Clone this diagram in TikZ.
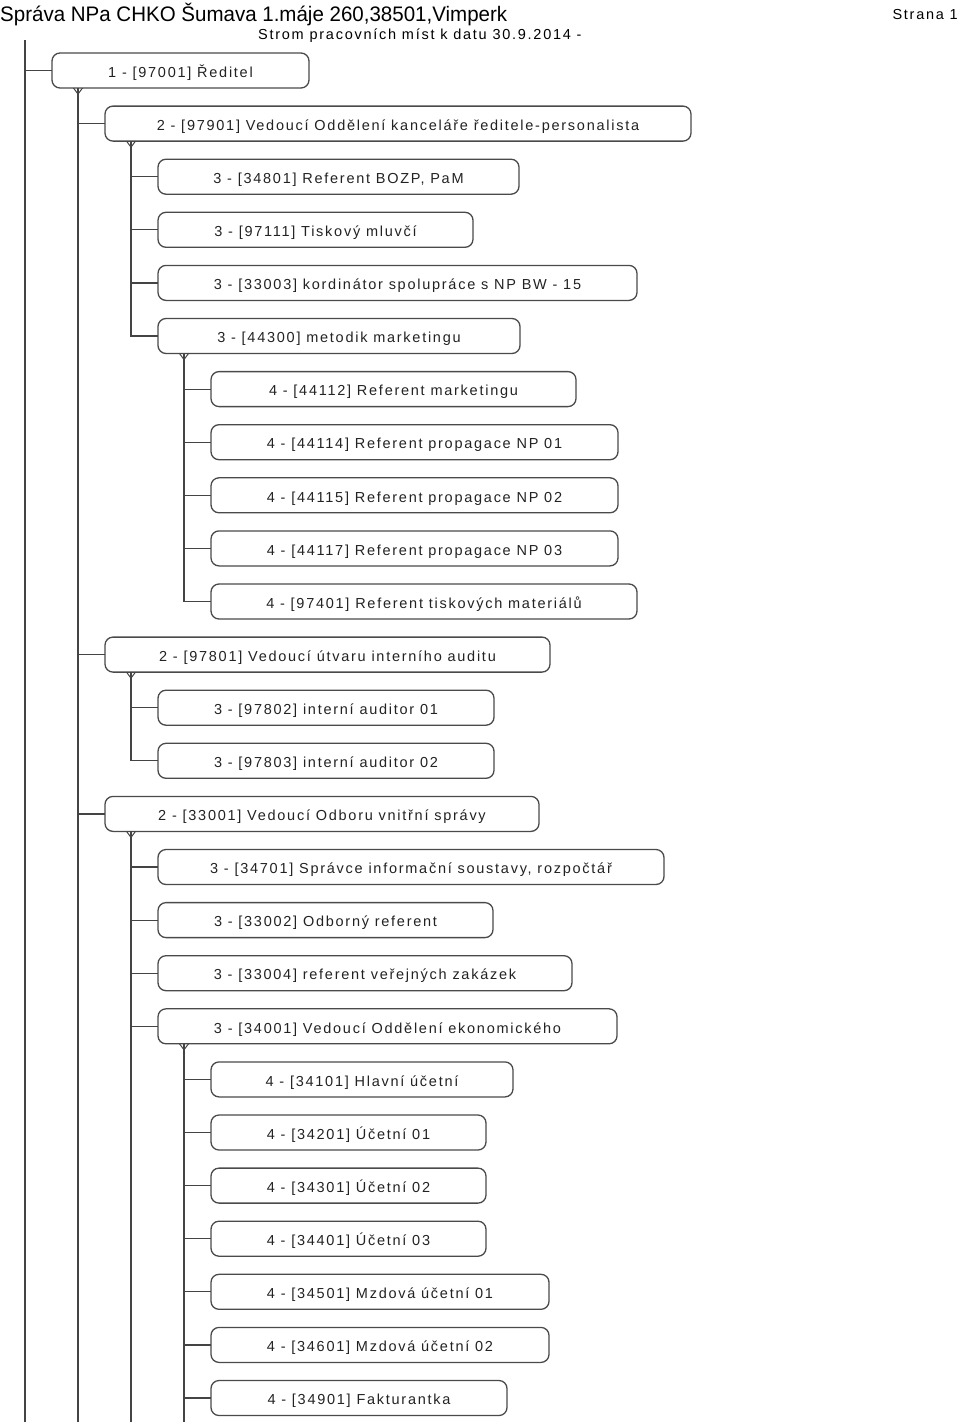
\documentclass[tikz,border=0pt]{standalone}
\usepackage{fontspec}
\usepackage{graphicx}
\setmainfont{Liberation Sans}
\newfontfamily\boxfont[LetterSpace=12]{Liberation Sans}
\newfontfamily\headfont{Liberation Sans}
\definecolor{boxc}{HTML}{4A4A4A}
\definecolor{linec}{HTML}{444444}
\definecolor{txt}{HTML}{222222}
\begin{document}
\begin{tikzpicture}[x=1pt,y=-1pt,
  box/.style={draw=boxc, line width=1.3pt, rounded corners=8pt, minimum height=35pt,
    inner sep=0pt, outer sep=0pt, anchor=west, text=txt, text height=13.4pt, text depth=0pt,
    font=\boxfont\fontsize{14.5}{17}\selectfont},
  conn/.style={draw=linec, line width=1.2pt},
  fork/.style={draw=linec, line width=1pt},
  hdr/.style={anchor=base west, inner sep=0pt, text=black}]
\useasboundingbox (0,0) rectangle (960,1427);
% header
\node[hdr] (h1) at (0,21.5) {\resizebox{507pt}{\height}{\headfont\fontsize{21}{24}\selectfont Správa NPa CHKO Šumava 1.máje 260,38501,Vimperk}};
\node[hdr, font=\boxfont\fontsize{14.5}{17}\selectfont] (h2) at (258,39.5) {Strom pracovních míst k datu 30.9.2014 -};
\node[hdr, anchor=base east, font=\boxfont\fontsize{14.5}{17}\selectfont] (h3) at (958,19.5) {Strana 1};
% boxes
\node[box, minimum width=257pt] (n1) at (52,70.5) {1 - [97001] Ředitel};
\node[box, minimum width=586pt] (n2) at (105,123.6) {2 - [97901] Vedoucí Oddělení kanceláře ředitele-personalista};
\node[box, minimum width=361pt] (n3) at (158,176.7) {3 - [34801] Referent BOZP, PaM};
\node[box, minimum width=315pt] (n4) at (158,229.8) {3 - [97111] Tiskový mluvčí};
\node[box, minimum width=479pt] (n5) at (158,282.9) {3 - [33003] kordinátor spolupráce s NP BW - 15};
\node[box, minimum width=362pt] (n6) at (158,336.0) {3 - [44300] metodik marketingu};
\node[box, minimum width=365pt] (n7) at (211,389.1) {4 - [44112] Referent marketingu};
\node[box, minimum width=407pt] (n8) at (211,442.2) {4 - [44114] Referent propagace NP 01};
\node[box, minimum width=407pt] (n9) at (211,495.3) {4 - [44115] Referent propagace NP 02};
\node[box, minimum width=407pt] (n10) at (211,548.4) {4 - [44117] Referent propagace NP 03};
\node[box, minimum width=426pt] (n11) at (211,601.5) {4 - [97401] Referent tiskových materiálů};
\node[box, minimum width=445pt] (n12) at (105,654.6) {2 - [97801] Vedoucí útvaru interního auditu};
\node[box, minimum width=336pt] (n13) at (158,707.7) {3 - [97802] interní auditor 01};
\node[box, minimum width=336pt] (n14) at (158,760.8) {3 - [97803] interní auditor 02};
\node[box, minimum width=434pt] (n15) at (105,813.9) {2 - [33001] Vedoucí Odboru vnitřní správy};
\node[box, minimum width=506pt] (n16) at (158,867.0) {3 - [34701] Správce informační soustavy, rozpočtář};
\node[box, minimum width=335pt] (n17) at (158,920.1) {3 - [33002] Odborný referent};
\node[box, minimum width=414pt] (n18) at (158,973.2) {3 - [33004] referent veřejných zakázek};
\node[box, minimum width=459pt] (n19) at (158,1026.3) {3 - [34001] Vedoucí Oddělení ekonomického};
\node[box, minimum width=302pt] (n20) at (211,1079.4) {4 - [34101] Hlavní účetní};
\node[box, minimum width=275pt] (n21) at (211,1132.5) {4 - [34201] Účetní 01};
\node[box, minimum width=275pt] (n22) at (211,1185.6) {4 - [34301] Účetní 02};
\node[box, minimum width=275pt] (n23) at (211,1238.7) {4 - [34401] Účetní 03};
\node[box, minimum width=338pt] (n24) at (211,1291.8) {4 - [34501] Mzdová účetní 01};
\node[box, minimum width=338pt] (n25) at (211,1344.9) {4 - [34601] Mzdová účetní 02};
\node[box, minimum width=296pt] (n26) at (211,1398.0) {4 - [34901] Fakturantka};
% trunk points
\coordinate (r0) at (25,40);
\coordinate (r1) at (25,1422);
\foreach \p in {1,2,6,12,15,19} \coordinate (t\p) at ([xshift=26pt]n\p.south west);
\coordinate (e1) at (78,1422);
\coordinate (e15) at (131,1422);
\coordinate (e19) at (184,1422);
% forks
\foreach \p in {1,2,6,12,15,19}
  \draw[fork] ([xshift=-4.5pt]t\p) -- ([yshift=-6pt]t\p) -- ([xshift=4.5pt]t\p);
% connectors
\draw[conn] (r0) -- (r1);
\draw[conn] (r0) |- (n1.west);
\draw[conn] (t1) -- (e1);
\foreach \c in {2,12,15} \draw[conn] (t1) |- (n\c.west);
\foreach \c in {3,4,5,6} \draw[conn] (t2) |- (n\c.west);
\foreach \c in {7,8,9,10,11} \draw[conn] (t6) |- (n\c.west);
\foreach \c in {13,14} \draw[conn] (t12) |- (n\c.west);
\draw[conn] (t15) -- (e15);
\foreach \c in {16,17,18,19} \draw[conn] (t15) |- (n\c.west);
\draw[conn] (t19) -- (e19);
\foreach \c in {20,21,22,23,24,25,26} \draw[conn] (t19) |- (n\c.west);
\end{tikzpicture}
\end{document}
